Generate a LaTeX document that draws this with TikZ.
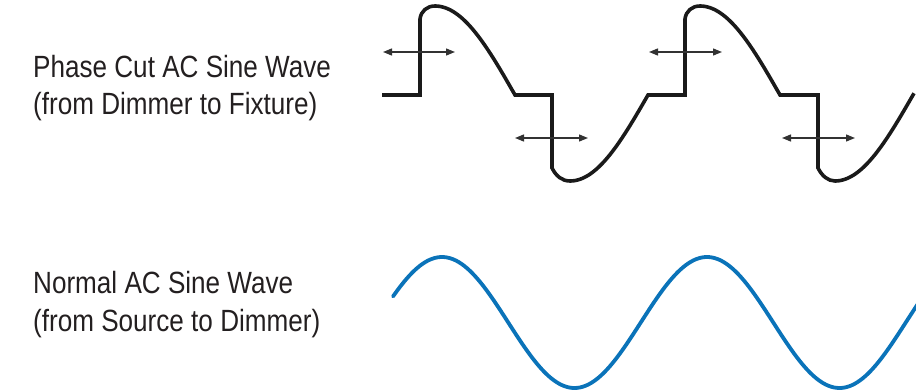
\documentclass[tikz,border=0pt]{standalone}
\usepackage{fontspec}
\setmainfont[FakeStretch=0.85]{Liberation Sans}
\usetikzlibrary{arrows.meta}
\definecolor{wavebk}{RGB}{26,26,26}
\definecolor{waveblue}{RGB}{10,115,185}
\definecolor{txtgray}{RGB}{35,31,32}
\definecolor{arrgray}{RGB}{50,50,50}
\begin{document}
\begin{tikzpicture}[x=1pt,y=-1pt,
  lbl/.style={anchor=base west, inner sep=0pt, text=txtgray, font=\fontsize{30.7}{37.5}\selectfont},
  cutwave/.style={draw=wavebk, line width=3.6pt, line join=miter},
  sinewave/.style={draw=waveblue, line width=3.8pt, line cap=round},
  shiftarrow/.style={draw=arrgray, line width=1.3pt, <->, >={Triangle[length=9pt,width=7pt]}}]
\useasboundingbox (0,0) rectangle (916,391);

% labels
\node[lbl] (cutA) at (33,77) {Phase Cut AC Sine Wave};
\node[lbl] (cutB) at (33,114.5) {(from Dimmer to Fixture)};
\node[lbl] (normA) at (33,293) {Normal AC Sine Wave};
\node[lbl] (normB) at (33,331) {(from Source to Dimmer)};

% phase cut wave
\draw[cutwave] (382,95) -- (420,95) -- (420,19)
  .. controls (421,11) and (427,6) .. (435,6)
  -- plot[domain=435:515, samples=40] (\x, {95-89*cos((\x-435)/80*90)})
  -- (552,95) -- (552,168)
  .. controls (556,176) and (562,181) .. (570,181)
  -- plot[domain=570:648, samples=40] (\x, {95+86*cos((\x-570)/78*90)})
  -- (685,95) -- (685,19)
  .. controls (686,11) and (692,6) .. (700,6)
  -- plot[domain=700:780, samples=40] (\x, {95-89*cos((\x-700)/80*90)})
  -- (818,95) -- (818,168)
  .. controls (822,176) and (828,181) .. (835,181)
  -- plot[domain=835:914, samples=40] (\x, {95+86*cos((\x-835)/78*90)});

% shift arrows
\coordinate (a1l) at (383,52);
\coordinate (a1r) at (455,52);
\coordinate (a2l) at (515,138);
\coordinate (a2r) at (588,138);
\coordinate (a3l) at (649,52);
\coordinate (a3r) at (722,52);
\coordinate (a4l) at (782,138);
\coordinate (a4r) at (855,138);
\draw[shiftarrow] (a1l) -- (a1r);
\draw[shiftarrow] (a2l) -- (a2r);
\draw[shiftarrow] (a3l) -- (a3r);
\draw[shiftarrow] (a4l) -- (a4r);

% normal sine wave
\draw[sinewave] plot[domain=393:918, samples=200] (\x, {322.5-65.5*cos((\x-442)/265*360)});
\end{tikzpicture}
\end{document}
